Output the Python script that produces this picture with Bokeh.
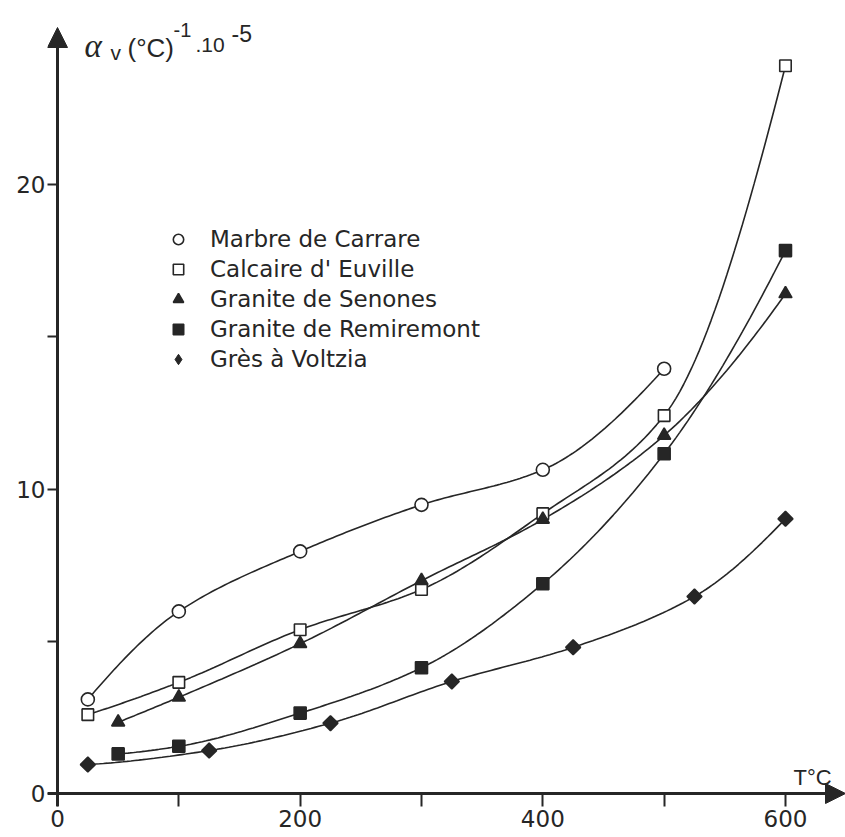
import numpy as np
from bokeh.plotting import figure
from bokeh.models import (Range1d, FixedTicker, Arrow, NormalHead, Legend,
                          LegendItem, Label)
from bokeh.embed import file_html
from bokeh.resources import INLINE

# ---------------- data ----------------
t_marbre = [25, 100, 200, 300, 400, 500]
marbre = [3.09, 5.98, 7.95, 9.48, 10.63, 13.95]

t_calcaire = [25, 100, 200, 300, 400, 500, 600]
calcaire = [2.59, 3.65, 5.38, 6.70, 9.19, 12.41, 23.9]

t_senones = [50, 100, 200, 300, 400, 500, 600]
senones = [2.34, 3.16, 4.92, 6.99, 9.00, 11.76, 16.41]

t_remiremont = [50, 100, 200, 300, 400, 500, 600]
remiremont = [1.30, 1.55, 2.64, 4.13, 6.89, 11.16, 17.83]

t_gres = [25, 125, 225, 325, 425, 525, 600]
gres = [0.95, 1.41, 2.31, 3.68, 4.80, 6.47, 9.02]

names = ["Marbre de Carrare", "Calcaire d' Euville", "Granite de Senones",
         "Granite de Remiremont", "Grès à Voltzia"]

x_ticks = [0, 100, 200, 300, 400, 500, 600]
x_labels = {0: "0", 100: "", 200: "200", 300: "", 400: "400", 500: "", 600: "600"}
y_ticks = [0, 5, 10, 15, 20]
y_labels = {0: "0", 5: "", 10: "10", 15: "", 20: "20"}

INK = "#262626"

# ---------------- geometry ----------------
W, H = 845, 837
X0, Y0 = 57, 793          # pixel position of the origin
PX_X = 1.2133             # pixels per degree
PX_Y = 30.45              # pixels per unit
FRAME_L, FRAME_B = 47, 806
x_start, x_end = -(X0 - FRAME_L) / PX_X, (W - X0) / PX_X
y_start, y_end = -(FRAME_B - Y0) / PX_Y, Y0 / PX_Y


def px_to_data(px, py):
    return (px - X0) / PX_X, (Y0 - py) / PX_Y


def smooth(xs, ys, n=180):
    """Shape-preserving cubic path through the points (drawing only)."""
    x = np.asarray(xs, float)
    y = np.asarray(ys, float)
    h = np.diff(x)
    d = np.diff(y) / h
    m = np.zeros_like(y)
    for i in range(1, len(y) - 1):
        if d[i - 1] * d[i] <= 0:
            m[i] = 0
        else:
            w1 = 2 * h[i] + h[i - 1]
            w2 = h[i] + 2 * h[i - 1]
            m[i] = (w1 + w2) / (w1 / d[i - 1] + w2 / d[i])

    def end_slope(h0, h1, d0, d1):
        s = ((2 * h0 + h1) * d0 - h0 * d1) / (h0 + h1)
        if np.sign(s) != np.sign(d0):
            s = 0
        elif np.sign(d0) != np.sign(d1) and abs(s) > abs(3 * d0):
            s = 3 * d0
        return s

    m[0] = end_slope(h[0], h[1], d[0], d[1])
    m[-1] = end_slope(h[-1], h[-2], d[-1], d[-2])
    xx, yy = [], []
    for i in range(len(h)):
        t = np.linspace(0, 1, n // len(h) + 2)
        h00 = 2 * t**3 - 3 * t**2 + 1
        h10 = t**3 - 2 * t**2 + t
        h01 = -2 * t**3 + 3 * t**2
        h11 = t**3 - t**2
        seg = h00 * y[i] + h10 * h[i] * m[i] + h01 * y[i + 1] + h11 * h[i] * m[i + 1]
        xx.extend(list(x[i] + t * h[i]))
        yy.extend(list(seg))
    return xx, yy


p = figure(width=W, height=H, output_backend="svg", toolbar_location=None,
           x_range=Range1d(x_start, x_end), y_range=Range1d(y_start, y_end),
           min_border_left=FRAME_L, min_border_bottom=H - FRAME_B,
           min_border_top=0, min_border_right=0)
p.outline_line_color = None
p.grid.visible = False
p.background_fill_color = "white"
p.border_fill_color = "white"

# axes (ticks drawn inward from the frame edge up to the axis lines)
p.xaxis.ticker = FixedTicker(ticks=x_ticks)
p.xaxis.major_label_overrides = x_labels
p.xaxis.minor_tick_line_color = None
p.xaxis.major_tick_in = FRAME_B - Y0
p.xaxis.major_tick_out = 0
p.xaxis.major_tick_line_width = 2
p.xaxis.major_tick_line_color = INK
p.xaxis.axis_line_alpha = 0
p.xaxis.major_label_standoff = 3
p.xaxis.major_label_text_font = "DejaVu Sans"
p.xaxis.major_label_text_font_size = "23px"
p.xaxis.major_label_text_color = INK

p.yaxis.ticker = FixedTicker(ticks=y_ticks)
p.yaxis.major_label_overrides = y_labels
p.yaxis.minor_tick_line_color = None
p.yaxis.major_tick_in = X0 - FRAME_L
p.yaxis.major_tick_out = 0
p.yaxis.major_tick_line_width = 2
p.yaxis.major_tick_line_color = INK
p.yaxis.axis_line_alpha = 0
p.yaxis.major_label_standoff = 2
p.yaxis.major_label_text_font = "DejaVu Sans"
p.yaxis.major_label_text_font_size = "23px"
p.yaxis.major_label_text_color = INK

# axis lines with arrow heads
y_tip = px_to_data(X0, 27)[1]
p.add_layout(Arrow(x_start=0, y_start=y_start, x_end=0, y_end=y_tip,
                   line_width=3, line_color=INK,
                   end=NormalHead(size=20, fill_color=INK, fill_alpha=1.0,
                                  line_color=INK, line_width=1)))
p.add_layout(Arrow(x_start=x_start, y_start=0, x_end=x_end, y_end=0,
                   line_width=3, line_color=INK,
                   end=NormalHead(size=20, fill_color=INK, fill_alpha=1.0,
                                  line_color=INK, line_width=1)))

# curves + markers
series = [
    (t_marbre, marbre, dict(marker="circle", size=13, fill_color="white")),
    (t_calcaire, calcaire, dict(marker="square", size=11.5, fill_color="white")),
    (t_senones, senones, dict(marker="triangle", size=13, fill_color=INK)),
    (t_remiremont, remiremont, dict(marker="square", size=12, fill_color=INK)),
    (t_gres, gres, dict(marker="square", size=10.5, angle=np.pi / 4, fill_color=INK)),
]

for tx, vy, style in series:
    sx, sy = smooth(tx, vy)
    p.line(sx, sy, line_color=INK, line_width=1.6)

items = []
for (tx, vy, style), name in zip(series, names):
    if style.get("angle"):
        # diamond glyph (sits under the rotated squares) used as legend swatch,
        # since the legend ignores marker angle
        r = p.scatter(tx, vy, marker="diamond", size=14, line_color=INK,
                      fill_color=INK)
        p.scatter(tx, vy, line_color=INK, line_width=1.6, **style)
    else:
        r = p.scatter(tx, vy, line_color=INK, line_width=1.6, **style)
    items.append(LegendItem(label=name, renderers=[r]))

legend = Legend(items=items, location=(165 - FRAME_L, FRAME_B - 374),
                glyph_width=26, glyph_height=30, label_height=30,
                label_standoff=19, spacing=0, padding=0, margin=0,
                border_line_color=None, background_fill_alpha=0,
                label_text_font="DejaVu Sans", label_text_font_size="23px",
                label_text_color=INK)
p.add_layout(legend, "center")


# axis titles
def add_text(px, py, text, font="Liberation Sans", size="20px", style="normal"):
    x, y = px_to_data(px, py)
    p.add_layout(Label(x=x, y=y, text=text, text_font=font, text_font_size=size,
                       text_font_style=style, text_color=INK,
                       text_align="left", text_baseline="alphabetic"))


add_text(84, 45, "α", font="Liberation Serif", size="33px", style="italic")
add_text(110, 52, "v", size="21px")
add_text(127, 47, "(°C)", size="26px")
add_text(173, 29, "-1", size="20px")
add_text(195, 44, ".10", size="21px")
add_text(231, 33, "-5", size="23px")
add_text(793, 777, "T°C", size="22px")

open("out.html", "w").write(file_html(p, INLINE))
